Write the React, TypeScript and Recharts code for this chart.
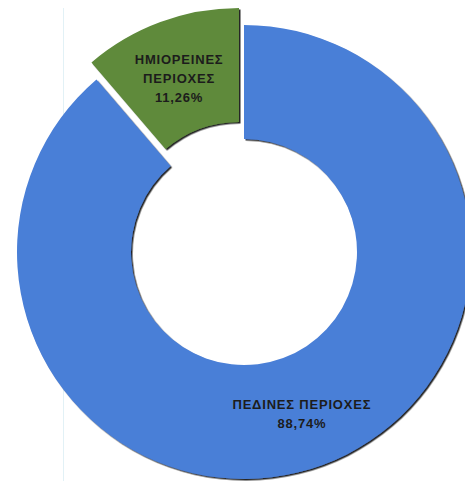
import React from "react";
import { PieChart, Pie, Cell } from "recharts";

const categories = ["ΠΕΔΙΝΕΣ ΠΕΡΙΟΧΕΣ", "ΗΜΙΟΡΕΙΝΕΣ ΠΕΡΙΟΧΕΣ"];
const labelLines = [["ΠΕΔΙΝΕΣ ΠΕΡΙΟΧΕΣ"], ["ΗΜΙΟΡΕΙΝΕΣ", "ΠΕΡΙΟΧΕΣ"]];
const shares = [88.74, 11.26];
const colors = ["#4a7fd7", "#5e8a3b"];
const exploded = [false, true];

const data = categories.map((name, i) => ({ name, value: shares[i], lines: labelLines[i] }));

const RADIAN = Math.PI / 180;
const W = 465;
const H = 481;
const CX = 244;
const CY = 252;
const INNER = 113;
const OUTER = 227;
const EXPLODE_DX = -5;
const EXPLODE_DY = -17;

const fmt = (v: number) => v.toFixed(2).replace(".", ",") + "%";

const makeLabel = (showExploded: boolean) => (props: any) => {
  const { cx, cy, midAngle, innerRadius, outerRadius, index } = props;
  if (exploded[index] !== showExploded) return null;
  const r = (innerRadius + outerRadius) / 2;
  const x = cx + r * Math.cos(-midAngle * RADIAN) - 1;
  const y = cy + r * Math.sin(-midAngle * RADIAN) + 2;
  const lines = [...data[index].lines, fmt(data[index].value)];
  const lh = 19;
  const y0 = y - ((lines.length - 1) * lh) / 2;
  return (
    <text
      key={`lbl-${index}`}
      x={x}
      y={y0}
      textAnchor="middle"
      dominantBaseline="central"
      fill="#1c1c1c"
      style={{ fontFamily: "'Liberation Sans', Arial, sans-serif", fontWeight: 700, fontSize: 13, letterSpacing: 0.8 }}
    >
      {lines.map((l, i) => (
        <tspan key={i} x={x} y={y0 + i * lh}>
          {l}
        </tspan>
      ))}
    </text>
  );
};

export default function App() {
  return (
    <div style={{ position: "absolute", left: 0, top: 0, width: W, height: H, background: "#ffffff", overflow: "hidden" }}>
      <svg width={0} height={0} style={{ position: "absolute" }}>
        <defs>
          <filter id="sliceShadow" x="-10%" y="-10%" width="120%" height="120%">
            <feDropShadow dx={1.5} dy={1.5} stdDeviation={0.7} floodColor="#000" floodOpacity={0.85} />
          </filter>
        </defs>
      </svg>
      <div style={{ position: "absolute", left: 63, top: 8, width: 1, height: H - 8, background: "#e2f1f6" }} />
      <div style={{ position: "absolute", left: 0, top: 0 }}>
        <PieChart width={W} height={H} margin={{ top: 0, right: 0, bottom: 0, left: 0 }}>
          <Pie
            data={data}
            dataKey="value"
            nameKey="name"
            cx={CX}
            cy={CY}
            innerRadius={INNER}
            outerRadius={OUTER}
            startAngle={90}
            endAngle={-270}
            stroke="none"
            isAnimationActive={false}
            labelLine={false}
            label={makeLabel(false)}
          >
            {data.map((d, i) => (
              <Cell
                key={`a-${i}`}
                fill={exploded[i] ? "transparent" : colors[i]}
                filter={exploded[i] ? undefined : "url(#sliceShadow)"}
              />
            ))}
          </Pie>
          <Pie
            data={data}
            dataKey="value"
            nameKey="name"
            cx={CX + EXPLODE_DX}
            cy={CY + EXPLODE_DY}
            innerRadius={INNER}
            outerRadius={OUTER}
            startAngle={90}
            endAngle={-270}
            stroke="none"
            isAnimationActive={false}
            labelLine={false}
            label={makeLabel(true)}
          >
            {data.map((d, i) => (
              <Cell
                key={`b-${i}`}
                fill={exploded[i] ? colors[i] : "transparent"}
                filter={exploded[i] ? "url(#sliceShadow)" : undefined}
              />
            ))}
          </Pie>
        </PieChart>
      </div>
    </div>
  );
}
